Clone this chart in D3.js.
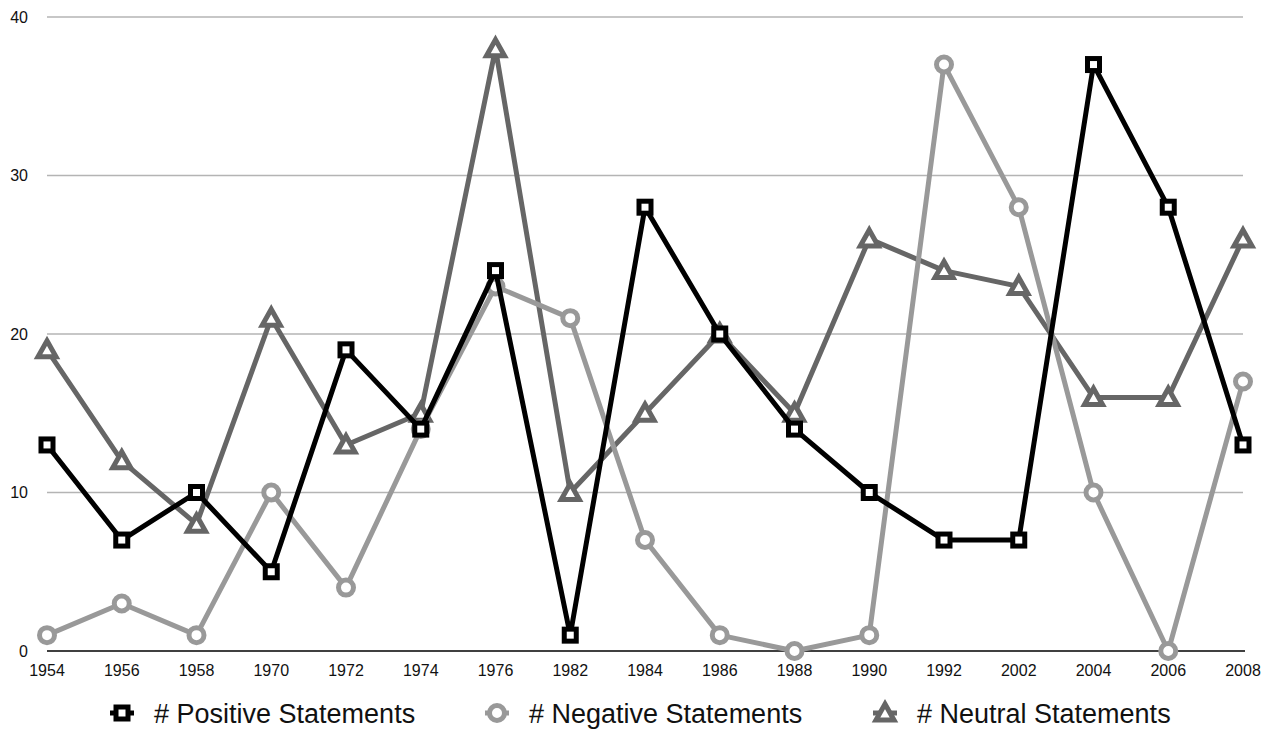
<!DOCTYPE html>
<html>
<head>
<meta charset="utf-8">
<script src="https://cdn.jsdelivr.net/npm/d3@7"></script>
<style>
  body { margin: 0; background: #fff; }
  text { font-family: "Liberation Sans", Arial, Helvetica, sans-serif; fill: #111; }
</style>
</head>
<body>
<script>
var years = ["1954", "1956", "1958", "1970", "1972", "1974", "1976", "1982", "1984",
             "1986", "1988", "1990", "1992", "2002", "2004", "2006", "2008"];
var positive = [13, 7, 10, 5, 19, 14, 24, 1, 28, 20, 14, 10, 7, 7, 37, 28, 13];
var negative = [1, 3, 1, 10, 4, 14, 23, 21, 7, 1, 0, 1, 37, 28, 10, 0, 17];
var neutral  = [19, 12, 8, 21, 13, 15, 38, 10, 15, 20, 15, 26, 24, 23, 16, 16, 26];
var yTicks = [0, 10, 20, 30, 40];

var series = [
  {name: "# Neutral Statements", values: neutral, color: "#666666", shape: "triangle", lx: 885},
  {name: "# Negative Statements", values: negative, color: "#999999", shape: "circle", lx: 497},
  {name: "# Positive Statements", values: positive, color: "#000000", shape: "square", lx: 122}
];

function draw_chart(width, height){
  var svg = d3.select("body")
    .append("svg")
    .attr("width", width)
    .attr("height", height);

  var x = d3.scalePoint()
    .domain(years)
    .range([47, 1243]);

  var y = d3.scaleLinear()
    .domain([0, 40])
    .range([651, 17]);

  // grid
  svg.append("g")
    .selectAll("line")
    .data(yTicks.filter(function(d) { return d > 0; }))
    .enter()
    .append("line")
      .attr("x1", 47)
      .attr("x2", 1243)
      .attr("y1", function(d) { return y(d); })
      .attr("y2", function(d) { return y(d); })
      .attr("stroke", "#b4b4b4")
      .attr("stroke-width", 1.5);

  svg.append("line")
    .attr("x1", 47)
    .attr("x2", 1245)
    .attr("y1", y(0))
    .attr("y2", y(0))
    .attr("stroke", "#000")
    .attr("stroke-width", 1.5);

  // y labels
  svg.append("g")
    .selectAll("text")
    .data(yTicks)
    .enter()
    .append("text")
      .attr("x", 28)
      .attr("y", function(d) { return y(d); })
      .attr("dy", "0.35em")
      .attr("text-anchor", "end")
      .attr("font-size", 16)
      .text(function(d) { return d; });

  // x labels
  svg.append("g")
    .selectAll("text")
    .data(years)
    .enter()
    .append("text")
      .attr("x", function(d) { return x(d); })
      .attr("y", 676)
      .attr("text-anchor", "middle")
      .attr("font-size", 16)
      .text(function(d) { return d; });

  var line = d3.line()
    .x(function(d, i) { return x(years[i]); })
    .y(function(d) { return y(d); });

  function marker(sel, shape, color){
    if (shape == "square") {
      sel.append("rect")
        .attr("x", -6).attr("y", -6)
        .attr("width", 12).attr("height", 12)
        .attr("fill", "#fff")
        .attr("stroke", color)
        .attr("stroke-width", 5);
    } else if (shape == "circle") {
      sel.append("circle")
        .attr("r", 7.5)
        .attr("fill", "#fff")
        .attr("stroke", color)
        .attr("stroke-width", 5);
    } else {
      sel.append("path")
        .attr("d", "M0,-9L9,7L-9,7Z")
        .attr("fill", "#fff")
        .attr("stroke", color)
        .attr("stroke-width", 5)
        .attr("stroke-linejoin", "miter");
    }
  }

  series.forEach(function(s) {
    var g = svg.append("g");
    g.append("path")
      .datum(s.values)
      .attr("d", line)
      .attr("fill", "none")
      .attr("stroke", s.color)
      .attr("stroke-width", 5)
      .attr("stroke-linejoin", "round");

    g.selectAll(".pt")
      .data(s.values)
      .enter()
      .append("g")
        .attr("class", "pt")
        .attr("transform", function(d, i) { return "translate(" + x(years[i]) + "," + y(d) + ")"; })
        .each(function() { marker(d3.select(this), s.shape, s.color); });
  });

  // legend
  series.forEach(function(s) {
    var lg = svg.append("g").attr("transform", "translate(" + s.lx + ",713)");
    lg.append("line")
      .attr("x1", -12).attr("x2", 12)
      .attr("stroke", s.color)
      .attr("stroke-width", 5);
    marker(lg, s.shape, s.color);
    lg.append("text")
      .attr("x", 32)
      .attr("dy", "0.36em")
      .attr("font-size", 27)
      .text(s.name);
  });
}

draw_chart(1269, 730);
</script>
</body>
</html>
